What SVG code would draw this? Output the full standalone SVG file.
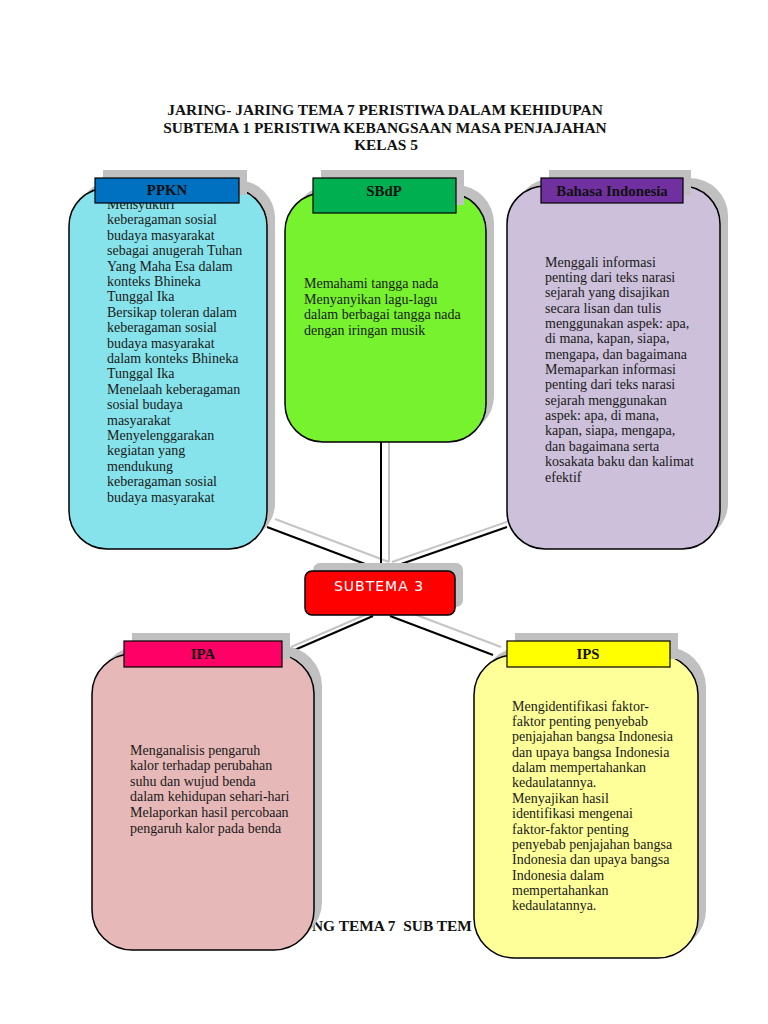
<svg xmlns="http://www.w3.org/2000/svg" width="768" height="1024" viewBox="0 0 768 1024">
<style>
.title{font-family:"Liberation Serif","Times New Roman",serif;font-weight:bold;font-size:15.4px;fill:#111;text-anchor:middle}
.foot{font-family:"Liberation Serif","Times New Roman",serif;font-weight:bold;font-size:15.4px;fill:#111;white-space:pre}
.body{font-family:"Liberation Serif","Times New Roman",serif;font-size:14px;fill:#1a1a1a}
.hdr{font-family:"Liberation Serif","Times New Roman",serif;font-weight:bold;font-size:14.8px;fill:#111;text-anchor:middle}
.shadow{fill:#c0c0c0}
.box{stroke:#000;stroke-width:1.5}
.head{stroke:#000;stroke-width:1.2}
.conn{stroke:#000;stroke-width:2;fill:none}
.connsh{stroke:#c4c4c4;stroke-width:2;fill:none}
</style>
<rect width="768" height="1024" fill="#fff"/>
<g id="title">
<text class="title" x="385" y="115">JARING- JARING TEMA 7 PERISTIWA DALAM KEHIDUPAN</text>
<text class="title" x="385" y="133">SUBTEMA 1 PERISTIWA KEBANGSAAN MASA PENJAJAHAN</text>
<text class="title" x="386" y="150">KELAS 5</text>
</g>
<g id="footer-text">
<text class="foot" x="312" y="931" xml:space="preserve">NG TEMA 7  SUB TEM</text>
</g>
<g id="connector-shadows">
<line class="connsh" x1="275" y1="519" x2="389" y2="562"/>
<line class="connsh" x1="389" y1="434" x2="389" y2="562"/>
<line class="connsh" x1="515" y1="519" x2="392" y2="562"/>
<line class="connsh" x1="381" y1="608" x2="291" y2="647"/>
<line class="connsh" x1="398" y1="608" x2="501" y2="647"/>
</g>
<g id="connectors">
<line class="conn" x1="267" y1="527" x2="381" y2="570"/>
<line class="conn" x1="381" y1="442" x2="381" y2="570"/>
<line class="conn" x1="507" y1="527" x2="384" y2="570"/>
<line class="conn" x1="373" y1="616" x2="283" y2="655"/>
<line class="conn" x1="390" y1="616" x2="493" y2="655"/>
</g>
<g id="ppkn">
<rect class="shadow" x="77" y="180" width="198" height="361" rx="38"/>
<rect class="box" x="69" y="188" width="198" height="361" rx="38" fill="#87e3eb"/>
<text class="body" x="107" y="209">
<tspan x="107" dy="0">Mensyukuri</tspan>
<tspan x="107" dy="15.4">keberagaman sosial</tspan>
<tspan x="107" dy="15.4">budaya masyarakat</tspan>
<tspan x="107" dy="15.4">sebagai anugerah Tuhan</tspan>
<tspan x="107" dy="15.4">Yang Maha Esa dalam</tspan>
<tspan x="107" dy="15.4">konteks Bhineka</tspan>
<tspan x="107" dy="15.4">Tunggal Ika</tspan>
<tspan x="107" dy="15.4">Bersikap toleran dalam</tspan>
<tspan x="107" dy="15.4">keberagaman sosial</tspan>
<tspan x="107" dy="15.4">budaya masyarakat</tspan>
<tspan x="107" dy="15.4">dalam konteks Bhineka</tspan>
<tspan x="107" dy="15.4">Tunggal Ika</tspan>
<tspan x="107" dy="15.4">Menelaah keberagaman</tspan>
<tspan x="107" dy="15.4">sosial budaya</tspan>
<tspan x="107" dy="15.4">masyarakat</tspan>
<tspan x="107" dy="15.4">Menyelenggarakan</tspan>
<tspan x="107" dy="15.4">kegiatan yang</tspan>
<tspan x="107" dy="15.4">mendukung</tspan>
<tspan x="107" dy="15.4">keberagaman sosial</tspan>
<tspan x="107" dy="15.4">budaya masyarakat</tspan>
</text>
<rect class="shadow" x="103" y="170" width="144" height="25"/>
<rect class="head" x="95" y="178" width="144" height="25" fill="#0070c0"/>
<text class="hdr" x="167" y="195">PPKN</text>
</g>
<g id="sbdp">
<rect class="shadow" x="293" y="185" width="201" height="249" rx="38"/>
<rect class="box" x="285" y="193" width="201" height="249" rx="38" fill="#76f22e"/>
<text class="body" x="304" y="288">
<tspan x="304" dy="0">Memahami tangga nada</tspan>
<tspan x="304" dy="15.5">Menyanyikan lagu-lagu</tspan>
<tspan x="304" dy="15.5">dalam berbagai tangga nada</tspan>
<tspan x="304" dy="15.5">dengan iringan musik</tspan>
</text>
<rect class="shadow" x="321" y="170" width="143" height="35"/>
<rect class="head" x="313" y="178" width="143" height="35" fill="#00b050"/>
<text class="hdr" x="384" y="196">SBdP</text>
</g>
<g id="bahasa-indonesia">
<rect class="shadow" x="515" y="178" width="213" height="363" rx="38"/>
<rect class="box" x="507" y="186" width="213" height="363" rx="38" fill="#ccc0da"/>
<text class="body" x="545" y="266.5">
<tspan x="545" dy="0">Menggali informasi</tspan>
<tspan x="545" dy="15.36">penting dari teks narasi</tspan>
<tspan x="545" dy="15.36">sejarah yang disajikan</tspan>
<tspan x="545" dy="15.36">secara lisan dan tulis</tspan>
<tspan x="545" dy="15.36">menggunakan aspek: apa,</tspan>
<tspan x="545" dy="15.36">di mana, kapan, siapa,</tspan>
<tspan x="545" dy="15.36">mengapa, dan bagaimana</tspan>
<tspan x="545" dy="15.36">Memaparkan informasi</tspan>
<tspan x="545" dy="15.36">penting dari teks narasi</tspan>
<tspan x="545" dy="15.36">sejarah menggunakan</tspan>
<tspan x="545" dy="15.36">aspek: apa, di mana,</tspan>
<tspan x="545" dy="15.36">kapan, siapa, mengapa,</tspan>
<tspan x="545" dy="15.36">dan bagaimana serta</tspan>
<tspan x="545" dy="15.36">kosakata baku dan kalimat</tspan>
<tspan x="545" dy="15.36">efektif</tspan>
</text>
<rect class="shadow" x="549" y="170" width="142" height="25"/>
<rect class="head" x="541" y="178" width="142" height="25" fill="#7030a0"/>
<text class="hdr" x="612" y="196">Bahasa Indonesia</text>
</g>
<g id="subtema-3">
<rect class="shadow" x="313" y="563" width="150" height="44" rx="7"/>
<rect class="box" x="305" y="571" width="150" height="44" rx="7" fill="#ff0000"/>
<text x="379" y="591" text-anchor="middle" font-family="DejaVu Sans, sans-serif" font-size="14" letter-spacing="1" fill="#fff">SUBTEMA 3</text>
</g>
<g id="ipa">
<rect class="shadow" x="100" y="646" width="222" height="296" rx="40"/>
<rect class="box" x="92" y="654" width="222" height="296" rx="40" fill="#e6b8b7"/>
<text class="body" x="130" y="754.5">
<tspan x="130" dy="0">Menganalisis pengaruh</tspan>
<tspan x="130" dy="15.6">kalor terhadap perubahan</tspan>
<tspan x="130" dy="15.6">suhu dan wujud benda</tspan>
<tspan x="130" dy="15.6">dalam kehidupan sehari-hari</tspan>
<tspan x="130" dy="15.6">Melaporkan hasil percobaan</tspan>
<tspan x="130" dy="15.6">pengaruh kalor pada benda</tspan>
</text>
<rect class="shadow" x="132" y="633" width="158" height="26"/>
<rect class="head" x="124" y="641" width="158" height="26" fill="#ff0066"/>
<text class="hdr" x="203" y="659">IPA</text>
</g>
<g id="ips">
<rect class="shadow" x="482" y="647" width="224" height="303" rx="40"/>
<rect class="box" x="474" y="655" width="224" height="303" rx="40" fill="#ffff99"/>
<text class="body" x="512" y="710.5">
<tspan x="512" dy="0">Mengidentifikasi faktor-</tspan>
<tspan x="512" dy="15.38">faktor penting penyebab</tspan>
<tspan x="512" dy="15.38">penjajahan bangsa Indonesia</tspan>
<tspan x="512" dy="15.38">dan upaya bangsa Indonesia</tspan>
<tspan x="512" dy="15.38">dalam mempertahankan</tspan>
<tspan x="512" dy="15.38">kedaulatannya.</tspan>
<tspan x="512" dy="15.38">Menyajikan hasil</tspan>
<tspan x="512" dy="15.38">identifikasi mengenai</tspan>
<tspan x="512" dy="15.38">faktor-faktor penting</tspan>
<tspan x="512" dy="15.38">penyebab penjajahan bangsa</tspan>
<tspan x="512" dy="15.38">Indonesia dan upaya bangsa</tspan>
<tspan x="512" dy="15.38">Indonesia dalam</tspan>
<tspan x="512" dy="15.38">mempertahankan</tspan>
<tspan x="512" dy="15.38">kedaulatannya.</tspan>
</text>
<rect class="shadow" x="515" y="633" width="163" height="26"/>
<rect class="head" x="507" y="641" width="163" height="26" fill="#ffff00"/>
<text class="hdr" x="588" y="659">IPS</text>
</g>
</svg>
